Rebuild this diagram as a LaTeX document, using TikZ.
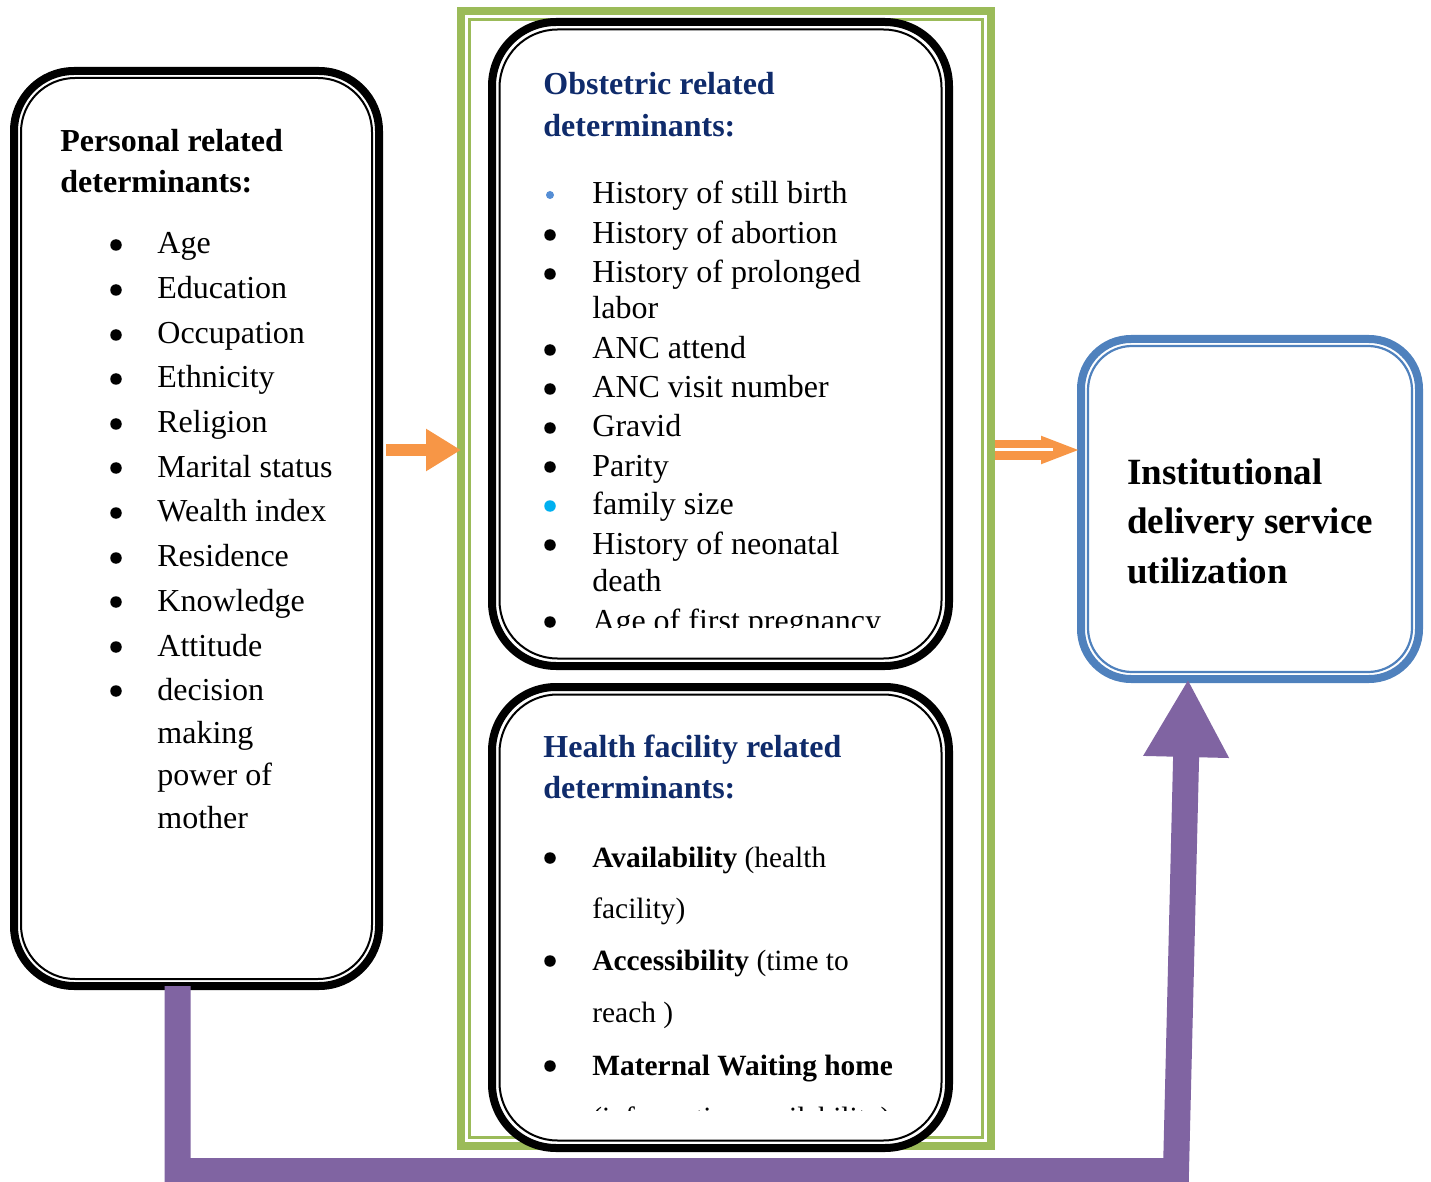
\documentclass[tikz,border=0pt]{standalone}
\usepackage{fontspec}
\setmainfont{Liberation Serif}
\usetikzlibrary{arrows.meta}

\definecolor{frameGreen}{HTML}{9BBB59}
\definecolor{boxBlue}{HTML}{4F81BD}
\definecolor{arrowOrange}{HTML}{F79646}
\definecolor{linkPurple}{HTML}{8064A2}
\definecolor{headBlue}{HTML}{0F2B6B}
\definecolor{dotBlue}{HTML}{558ED5}
\definecolor{dotCyan}{HTML}{00B0F0}

\begin{document}
\begin{tikzpicture}[x=0.5pt, y=-0.5pt,
    outerbox/.style={draw, fill=white, line width=4pt, outer sep=0pt, inner sep=0pt},
    txt/.style={anchor=base west, inner sep=0pt, font=\fontsize{16pt}{19pt}\selectfont},
    smalltxt/.style={anchor=base west, inner sep=0pt, font=\fontsize{14.7pt}{18pt}\selectfont},
    head/.style={txt, font=\fontsize{16pt}{19pt}\selectfont\bfseries},
    dot/.style={circle, fill, inner sep=0pt, minimum size=5.75pt}]
    \useasboundingbox (0,0) rectangle (1431,1182);

    % green frame round the middle column
    \node[draw=frameGreen, line width=4pt, outer sep=0pt, minimum width=265pt, minimum height=567.5pt] (frame) at (726,578.5) {};
    \draw[frameGreen, line width=1.25pt] ([shift={(4.25pt,-4.25pt)}]frame.north west) rectangle ([shift={(-4.25pt,4.25pt)}]frame.south east);

    % boxes, thick outer line and thin inner line
    \node[outerbox, rounded corners=30pt, minimum width=182.5pt, minimum height=457.5pt] (pers) at (196.5,528.5) {};
    \draw[line width=1pt, rounded corners=27pt] ([shift={(3.5pt,-3.5pt)}]pers.north west) rectangle ([shift={(-3.5pt,3.5pt)}]pers.south east);

    \node[outerbox, rounded corners=32pt, minimum width=228.5pt, minimum height=322pt] (obs) at (720.5,344) {};
    \draw[line width=1pt, rounded corners=29pt] ([shift={(3.75pt,-3.75pt)}]obs.north west) rectangle ([shift={(-3.75pt,3.75pt)}]obs.south east);

    \node[outerbox, rounded corners=32pt, minimum width=228.5pt, minimum height=230.5pt] (hf) at (720.5,917.5) {};
    \draw[line width=1pt, rounded corners=29pt] ([shift={(3.75pt,-3.75pt)}]hf.north west) rectangle ([shift={(-3.75pt,3.75pt)}]hf.south east);

    \node[outerbox, draw=boxBlue, rounded corners=25pt, minimum width=169pt, minimum height=170pt] (util) at (1250,509) {};
    \draw[boxBlue, line width=1.1pt, rounded corners=22pt] ([shift={(3.5pt,-3.5pt)}]util.north west) rectangle ([shift={(-3.5pt,3.5pt)}]util.south east);

    % arrows
    \coordinate (mid) at (0,450);
    \coordinate (bend) at (1176,1171);
    \draw[arrowOrange, line width=6pt, shorten <=3.5pt, -{Triangle[length=17.5pt,width=20pt]}] (pers.east |- mid) -- (frame.west |- mid);
    \draw[arrowOrange, line width=10pt, shorten <=2pt, -{Triangle[length=20pt,width=12.5pt]}] (frame.east |- mid) -- (util.west |- mid);
    \draw[white, line width=1.5pt, shorten <=2pt, shorten >=14pt] (frame.east |- mid) -- (util.west |- mid);
    \draw[linkPurple, line width=13pt, -{Triangle[length=39pt,width=40pt]}] ([xshift=-9.5pt]pers.south) |- (bend) -- ([xshift=-31pt]util.south);

    % personal related determinants
    \node[head] (per-h1) at (60,152) {Personal related};
    \node[head] (per-h2) at (60,193) {determinants:};
    \foreach \txt/\yy [count=\i] in {Age/254, Education/299, Occupation/344, Ethnicity/388, Religion/433,
        Marital status/477, Wealth index/522, Residence/567, Knowledge/611, Attitude/656, decision/700} {
        \node[dot] (per-dot-\i) at (116,\yy-9) {};
        \node[txt] (per-item-\i) at (157,\yy) {\txt};
    }
    \foreach \txt/\yy [count=\i] in {making/743, power of/785, mother/828}
        \node[txt] (per-more-\i) at (157,\yy) {\txt};

    % obstetric related determinants
    \begin{scope}
        \clip (500,30) rectangle (945,627);
        \node[head, headBlue] (obs-h1) at (543,95) {Obstetric related};
        \node[head, headBlue] (obs-h2) at (543,137) {determinants:};
        \foreach \txt/\yy/\dcol/\dsz [count=\i] in {History of still birth/204/dotBlue/4pt,
            History of abortion/244/black/5.75pt, History of prolonged/283/black/5.75pt,
            ANC attend/359/black/5.75pt, ANC visit number/398/black/5.75pt, Gravid/437/black/5.75pt,
            Parity/476/black/5.75pt, family size/515/dotCyan/5.75pt, History of neonatal/554/black/5.75pt,
            Age of first pregnancy/631/black/5.75pt} {
            \node[dot, fill=\dcol, minimum size=\dsz] (obs-dot-\i) at (550,\yy-9) {};
            \node[txt] (obs-item-\i) at (592,\yy) {\txt};
        }
        \node[txt] (obs-more-1) at (592,319) {labor};
        \node[txt] (obs-more-2) at (592,591) {death};
    \end{scope}

    % health facility related determinants
    \begin{scope}
        \clip (500,700) rectangle (945,1110);
        \node[head, headBlue] (hf-h1) at (543,757) {Health facility related};
        \node[head, headBlue] (hf-h2) at (543,798) {determinants:};
        \node[dot] (hf-dot-1) at (550,858) {};
        \node[smalltxt] (hf-item-1) at (592,867) {\textbf{Availability} (health};
        \node[smalltxt] (hf-more-1) at (592,918) {facility)};
        \node[dot] (hf-dot-2) at (550,961) {};
        \node[smalltxt] (hf-item-2) at (592,970) {\textbf{Accessibility} (time to};
        \node[smalltxt] (hf-more-2) at (592,1022) {reach )};
        \node[dot] (hf-dot-3) at (550,1066) {};
        \node[smalltxt] (hf-item-3) at (592,1075) {\textbf{Maternal Waiting home}};
        \node[smalltxt] (hf-more-3) at (592,1127) {(information availability)};
    \end{scope}

    % outcome
    \node[txt, font=\fontsize{18.5pt}{22pt}\selectfont\bfseries] (util-1) at (1127,485) {Institutional};
    \node[txt, font=\fontsize{18.5pt}{22pt}\selectfont\bfseries] (util-2) at (1127,533) {delivery service};
    \node[txt, font=\fontsize{18.5pt}{22pt}\selectfont\bfseries] (util-3) at (1127,583) {utilization};
\end{tikzpicture}
\end{document}
